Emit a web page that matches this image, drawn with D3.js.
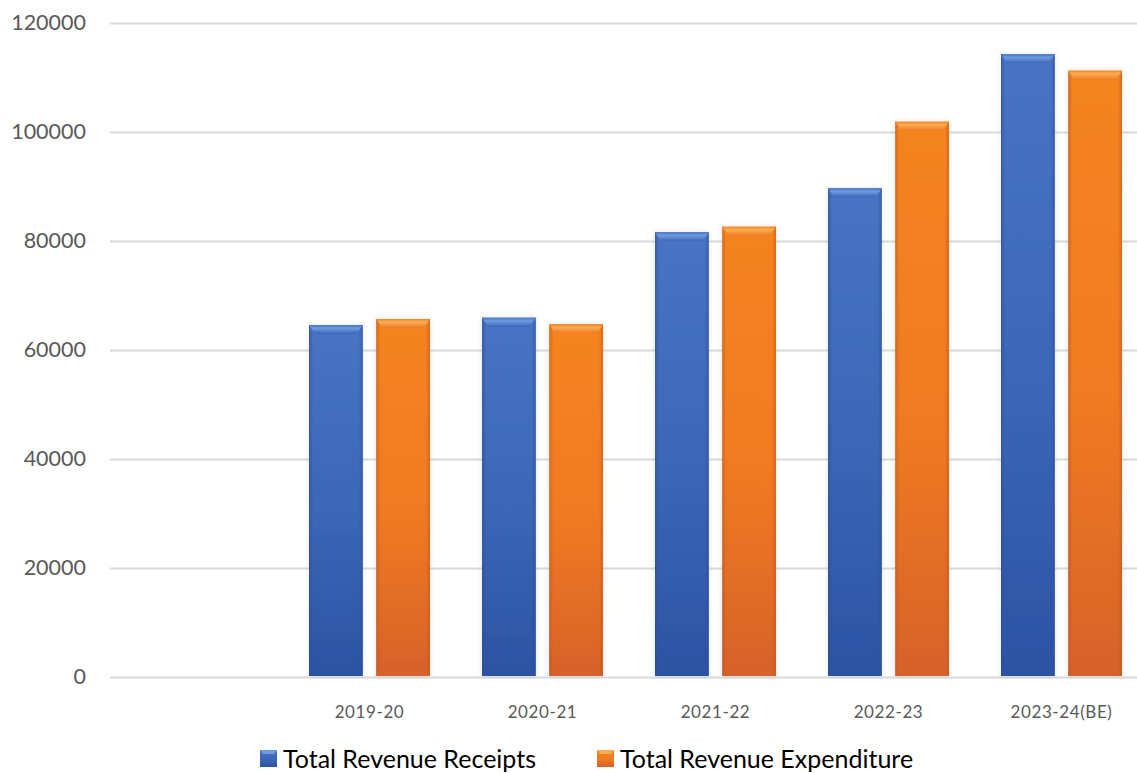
<!DOCTYPE html>
<html><head><meta charset="utf-8">
<script src="https://cdn.jsdelivr.net/npm/d3@7"></script>
<style>html,body{margin:0;padding:0;background:#fff;overflow:hidden}</style>
</head><body>
<script>
const categories = ["", "2019-20", "2020-21", "2021-22", "2022-23", "2023-24(BE)"];
const seriesNames = ["Total Revenue Receipts", "Total Revenue Expenditure"];
const receipts = [null, 64590, 65930, 81600, 89670, 114260];
const expenditure = [null, 65690, 64720, 82620, 101890, 111250];
const yTicks = [0, 20000, 40000, 60000, 80000, 100000, 120000];

const W = 1137, H = 773;
const svg = d3.select("body").append("svg").attr("width", W).attr("height", H);
const defs = svg.append("defs");

const palettes = [
  {id:"b", top:"#4874c4", mid:"#3b66b6", bot:"#2c53a3", edge:"#2a4d94", cap:"#6d9be0"},
  {id:"o", top:"#f5841f", mid:"#f07a22", bot:"#d6622a", edge:"#c0561f", cap:"#fbae55"}
];
palettes.forEach(p => {
  const g = defs.append("linearGradient").attr("id","v"+p.id).attr("x1",0).attr("y1",0).attr("x2",0).attr("y2",1);
  g.append("stop").attr("offset","0%").attr("stop-color",p.top);
  g.append("stop").attr("offset","55%").attr("stop-color",p.mid);
  g.append("stop").attr("offset","100%").attr("stop-color",p.bot);
  const h = defs.append("linearGradient").attr("id","h"+p.id).attr("x1",0).attr("y1",0).attr("x2",1).attr("y2",0);
  h.append("stop").attr("offset","0%").attr("stop-color",p.edge).attr("stop-opacity",0.55);
  h.append("stop").attr("offset","8%").attr("stop-color",p.edge).attr("stop-opacity",0);
  h.append("stop").attr("offset","92%").attr("stop-color",p.edge).attr("stop-opacity",0);
  h.append("stop").attr("offset","100%").attr("stop-color",p.edge).attr("stop-opacity",0.55);
  const c = defs.append("linearGradient").attr("id","c"+p.id).attr("x1",0).attr("y1",0).attr("x2",0).attr("y2",1);
  c.append("stop").attr("offset","0%").attr("stop-color",p.top);
  c.append("stop").attr("offset","35%").attr("stop-color",p.cap);
  c.append("stop").attr("offset","100%").attr("stop-color",p.mid);
});
const f = defs.append("filter").attr("id","sh").attr("x","-20%").attr("y","-5%").attr("width","140%").attr("height","110%");
f.append("feDropShadow").attr("dx",0).attr("dy",0).attr("stdDeviation",2.5).attr("flood-color","#000").attr("flood-opacity",0.12);

const x = d3.scaleBand().domain(categories).range([110, 1148]).paddingInner(0).paddingOuter(0);
const inner = d3.scaleBand().domain(seriesNames).range([26, x.bandwidth()-26]).paddingInner(0.2);
const y = d3.scaleLinear().domain([0,120000]).range([677,23]);

const font = "Lato, 'Open Sans', sans-serif";

// gridlines
const yAxis = d3.axisLeft(y).tickValues(yTicks).tickSize(-(1148-110)).tickPadding(24).tickFormat(d3.format("d"));
const ga = svg.append("g").attr("transform","translate(110,0)").call(yAxis);
ga.select(".domain").remove();
ga.selectAll(".tick line").attr("stroke","#d9d9d9").attr("stroke-width",2);
ga.selectAll(".tick text").attr("fill","#595959").style("font-family",font).style("font-size","21.5px");

// bars
const data = [receipts, expenditure];
data.forEach((vals, si) => {
  const p = palettes[si];
  const g = svg.append("g");
  categories.forEach((c, i) => {
    const v = vals[i];
    if (v == null) return;
    const bx = x(c) + inner(seriesNames[si]);
    const bw = inner.bandwidth();
    const by = y(v), bh = y(0) - y(v) - 1;
    const bg = g.append("g").attr("filter","url(#sh)");
    bg.append("rect").attr("x",bx).attr("y",by).attr("width",bw).attr("height",bh).attr("fill","url(#v"+p.id+")");
    bg.append("rect").attr("x",bx).attr("y",by).attr("width",bw).attr("height",bh).attr("fill","url(#h"+p.id+")");
    const cap = 9;
    bg.append("path").attr("d",`M${bx},${by} L${bx+bw},${by} L${bx+bw-6},${by+cap} L${bx+6},${by+cap} Z`).attr("fill","url(#c"+p.id+")");
  });
});

// x axis labels
const xAxis = d3.axisBottom(x).tickSize(0).tickPadding(29);
const gx = svg.append("g").attr("transform","translate(0,677)").call(xAxis);
gx.select(".domain").remove();
gx.selectAll(".tick text").attr("fill","#595959").style("font-family",font).style("font-size","17px").style("letter-spacing","0.6px");

// legend
const legX = [260, 597];
seriesNames.forEach((n, i) => {
  const p = palettes[i];
  const lg = svg.append("g").attr("transform",`translate(${legX[i]},750)`);
  lg.append("rect").attr("width",17).attr("height",17).attr("fill","url(#v"+p.id+")");
  lg.append("path").attr("d","M0,0 L17,0 L14,4 L3,4 Z").attr("fill",p.cap);
  lg.append("text").attr("x",23).attr("y",17.5).text(n).attr("fill","#000").style("font-family",font).style("font-size","25px");
});
</script>
</body></html>
